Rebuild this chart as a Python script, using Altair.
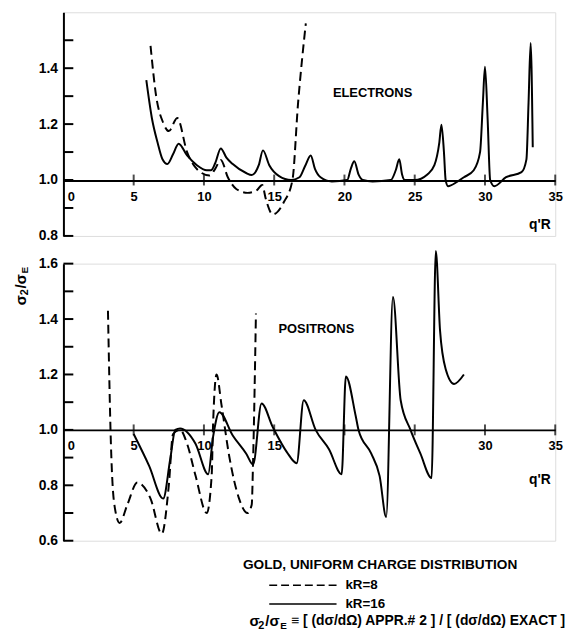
import altair as alt
import pandas as pd

# ---------------- data ----------------
# Electrons, kR = 16 (solid)
e16_x = [5.9, 6.3, 6.7, 7.05, 7.4, 7.8, 8.2, 8.8, 9.5, 10.2, 10.5, 10.8, 11.2, 11.6, 12.05, 13.0, 13.4,
         13.9, 14.2, 14.65, 15.35, 16.2, 16.8, 17.2, 17.6, 17.9, 18.3, 19.1, 20.2, 20.45, 20.7, 21.0, 21.3,
         22.0, 23.3, 23.65, 23.9, 24.1, 24.3, 25.0, 25.9, 26.4, 26.75, 26.9, 27.08, 27.2, 27.37, 28.0,
         28.5, 29.2, 29.65, 29.85, 30.0, 30.19, 30.37, 30.66, 31.5, 32.6, 32.95, 33.1, 33.25, 33.4]
e16_y = [1.357, 1.22, 1.134, 1.074, 1.057, 1.092, 1.13, 1.088, 1.053, 1.035, 1.035, 1.06, 1.113, 1.08,
         1.057, 1.025, 1.018, 1.053, 1.106, 1.053, 1.014, 1.0, 1.01, 1.05, 1.088, 1.04, 1.01, 0.995, 1.0,
         1.04, 1.067, 1.02, 1.0, 0.995, 1.0, 1.035, 1.074, 1.02, 1.0, 1.0, 1.02, 1.053, 1.134, 1.198, 1.1,
         1.0, 0.978, 0.993, 1.01, 1.035, 1.1, 1.276, 1.405, 1.216, 1.0, 0.978, 1.01, 1.028, 1.074, 1.276,
         1.49, 1.117]

# Electrons, kR = 8 (dashed)
e8_x = [6.2, 6.6, 7.1, 7.5, 8.1, 8.8, 9.7, 10.4, 10.8, 11.2, 11.7, 12.3, 13.1, 13.7, 14.15, 14.4, 14.9,
        15.7, 16.3, 16.7, 17.0, 17.25]
e8_y = [1.48, 1.3, 1.205, 1.175, 1.222, 1.1, 1.03, 1.016, 1.04, 1.072, 1.01, 0.968, 0.954, 0.961, 0.982,
        0.933, 0.877, 0.922, 1.0, 1.276, 1.44, 1.56]

# Positrons, kR = 16 (solid)
p16_x = [5.0, 6.1, 7.1, 7.6, 7.96, 8.3, 9.4, 10.3, 10.65, 11.1, 12.05, 13.0, 13.5, 14.1, 14.9, 15.9,
         16.6, 17.1, 17.95, 18.9, 19.8, 20.1, 20.8, 21.0, 21.9, 22.5, 22.97, 23.45, 24.0, 24.7, 25.4,
         26.2, 26.5, 26.8, 27.2, 27.8, 28.5]
p16_y = [0.985, 0.87, 0.752, 0.894, 1.0, 1.005, 0.95, 0.84, 0.975, 1.064, 0.98, 0.915, 0.875, 1.095,
         1.01, 0.92, 0.88, 1.107, 1.0, 0.93, 0.84, 1.193, 1.05, 1.0, 0.915, 0.834, 0.686, 1.48, 1.107,
         1.0, 0.915, 0.826, 1.646, 1.36, 1.22, 1.166, 1.2]

# Positrons, kR = 8 (dashed)
p8_x = [3.17, 3.38, 3.6, 4.0, 4.55, 5.26, 6.2, 7.0, 7.5, 7.8, 8.3, 8.8, 9.4, 10.2, 10.55, 10.65, 10.9,
        11.25, 11.8, 12.5, 13.1, 13.4, 13.5, 13.7]
p8_y = [1.43, 0.95, 0.74, 0.664, 0.73, 0.81, 0.752, 0.625, 0.8, 0.985, 1.0, 0.95, 0.835, 0.70, 0.835,
        1.02, 1.2, 1.09, 0.905, 0.752, 0.70, 0.73, 0.894, 1.42]

x_ticks = [0, 5, 10, 15, 20, 25, 30, 35]
x_minor = [5, 10, 15, 20, 25, 30, 35]
top_y_labels = [0.8, 1.0, 1.2, 1.4]
top_y_ticks = [0.8, 0.9, 1.0, 1.1, 1.2, 1.3, 1.4, 1.5]
bot_y_labels = [0.6, 0.8, 1.0, 1.2, 1.4, 1.6]
bot_y_ticks = [0.6, 0.7, 0.8, 0.9, 1.0, 1.1, 1.2, 1.3, 1.4, 1.5, 1.6]

FONT = "Liberation Sans"
W = 497
H_TOP = 226
H_BOT = 280


def line_df(xs, ys):
    return pd.DataFrame({"x": xs, "y": ys, "i": list(range(len(xs)))})


def panel(solid, dashed, ymin, ylabels, yticks, height, label_hide, name, name_xy, title_y):
    offset = -round((1.0 - ymin) * height / (1.6 - ymin))
    xaxis = alt.Axis(values=x_ticks, offset=offset, ticks=False, tickSize=0, grid=False,
                     domainColor="black", domainWidth=2, labelPadding=10,
                     labelExpr=label_hide,
                     labelAlign={"condition": {"test": "datum.value == 0", "value": "left"}, "value": "center"},
                     labelOffset={"condition": {"test": "datum.value == 0", "value": 4}, "value": 0},
                     title="q'R", titleX=481, titleY=title_y,
                     titleAlign="center", titleBaseline="middle", titleFontSize=14,
                     titleFont=FONT, titleFontWeight="bold", labelFont=FONT, labelFontSize=13,
                     labelFontWeight="bold", labelColor="black", titleColor="black")
    yaxis = alt.Axis(values=ylabels, format=".1f", ticks=False, tickSize=0, grid=False,
                     domainColor="black", domainWidth=2, labelPadding=6, title=None,
                     labelFont=FONT, labelFontSize=14, labelFontWeight="bold", labelColor="black")
    X = alt.X("x:Q", scale=alt.Scale(domain=[0, 35], nice=False, zero=False), axis=xaxis)
    Y = alt.Y("y:Q", scale=alt.Scale(domain=[ymin, 1.6], nice=False, zero=False), axis=yaxis)

    solid_l = alt.Chart(line_df(*solid)).mark_line(
        color="black", strokeWidth=2, interpolate="monotone").encode(x=X, y=Y, order="i:Q")
    dashed_l = alt.Chart(line_df(*dashed)).mark_line(
        color="black", strokeWidth=2, strokeDash=[9, 5], interpolate="monotone").encode(x=X, y=Y, order="i:Q")
    yt = alt.Chart(pd.DataFrame({"y": yticks})).mark_rule(color="black", strokeWidth=2).encode(
        y=Y, x=alt.value(0), x2=alt.value(10))
    xt = alt.Chart(pd.DataFrame({"x": x_minor, "y": [1.0] * len(x_minor)})).mark_tick(
        color="black", orient="vertical", size=11, thickness=2).encode(x=X, y=Y)
    lab = alt.Chart(pd.DataFrame({"x": [name_xy[0]], "y": [name_xy[1]], "t": [name]})).mark_text(
        font=FONT, fontSize=13, fontWeight="bold", color="black").encode(x=X, y=Y, text="t:N")
    return [dashed_l, solid_l, yt, xt, lab]


top_layers = panel((e16_x, e16_y), (e8_x, e8_y), 0.8, top_y_labels, top_y_ticks, H_TOP,
                   "datum.label", "ELECTRONS", (22.0, 1.311), 45)
top = alt.layer(*top_layers).properties(width=W, height=H_TOP)

bot_layers = panel((p16_x, p16_y), (p8_x, p8_y), 0.6, bot_y_labels, bot_y_ticks, H_BOT,
                   "(datum.value == 20 || datum.value == 25) ? '' : datum.label", "POSITRONS",
                   (18.0, 1.364), 50)

one = pd.DataFrame({"a": [0]})


def txt(s, x, y, size=13, align="left", angle=0, baseline="middle"):
    return alt.Chart(one).mark_text(text=s, font=FONT, fontSize=size, fontWeight="bold", color="black",
                                    align=align, baseline=baseline, angle=angle).encode(
        x=alt.value(x), y=alt.value(y))


def hrule(x1, x2, y, dash=None):
    kw = dict(color="black", strokeWidth=1.5)
    if dash:
        kw["strokeDash"] = dash
    return alt.Chart(one).mark_rule(**kw).encode(x=alt.value(x1), x2=alt.value(x2), y=alt.value(y))


extras = [
    # y-axis title  sigma_2 / sigma_E (rotated, reading upward)
    txt("σ", -43, 42, size=15, angle=270),
    txt("2", -39, 32, size=11, angle=270),
    txt("/σ", -43, 25, size=15, angle=270),
    txt("E", -39, 10, size=10, angle=270),
    # legend
    txt("GOLD, UNIFORM CHARGE DISTRIBUTION", 320, 305, size=13.8, align="center"),
    hrule(208, 276, 325, dash=[8, 4]),
    txt("kR=8", 285, 325, size=13.5),
    hrule(208, 276, 344),
    txt("kR=16", 285, 344, size=13.5),
    txt("σ", 188, 361, size=15),
    txt("2", 197, 366, size=11),
    txt("/σ", 204, 361, size=15),
    txt("E", 219, 366, size=10),
    txt("≡  [ (dσ/dΩ) APPR.# 2 ]  /  [ (dσ/dΩ) EXACT ]", 230, 361, size=14),
]

bot = alt.layer(*bot_layers, *extras).properties(width=W, height=H_BOT)

chart = alt.vconcat(top, bot, spacing=28, bounds="flush").properties(
    padding={"left": 5, "top": 0, "right": 0, "bottom": 5}
).configure_view(stroke=None).configure(background="white")

chart.save("out.html", embed_options={"renderer": "svg", "actions": False})
